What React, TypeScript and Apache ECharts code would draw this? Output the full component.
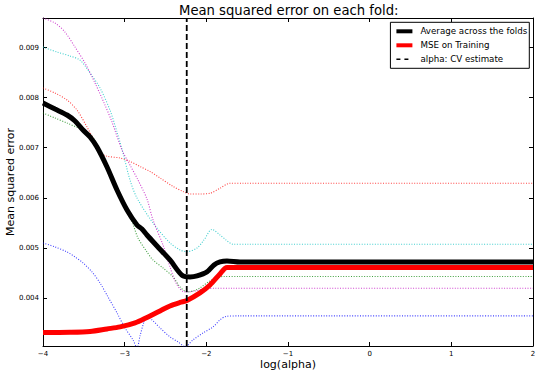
import React, { useEffect, useRef } from "react";
import * as echarts from "echarts";

const xTicks = [-4, -3, -2, -1, 0, 1, 2];
const yTicks = [0.004, 0.005, 0.006, 0.007, 0.008, 0.009];
const yMin = 0.00304;
const yMax = 0.00959;
const cvAlpha = -2.24;

const avgFolds = [
  [-4.0, 0.007892], [-3.853, 0.007772], [-3.706, 0.007653], [-3.608, 0.007533],
  [-3.51, 0.007353], [-3.424, 0.007214], [-3.339, 0.007014], [-3.216, 0.006615],
  [-3.094, 0.006156], [-2.971, 0.005756], [-2.849, 0.005457], [-2.788, 0.005377],
  [-2.727, 0.005257], [-2.604, 0.005038], [-2.445, 0.004758], [-2.286, 0.004439],
  [-2.2, 0.004419], [-2.114, 0.004439], [-1.992, 0.004519], [-1.906, 0.004659],
  [-1.833, 0.004719], [-1.747, 0.004739], [-1.588, 0.004719], [2.0, 0.004719],
];

const mseTraining = [
  [-4.0, 0.003311], [-3.669, 0.003315], [-3.424, 0.003331], [-3.216, 0.003381],
  [-3.057, 0.003421], [-2.873, 0.003501], [-2.727, 0.003611], [-2.567, 0.003741],
  [-2.445, 0.00384], [-2.322, 0.00391], [-2.237, 0.00395], [-2.078, 0.0041],
  [-1.955, 0.004259], [-1.833, 0.004479], [-1.747, 0.004609], [-1.6, 0.004609],
  [2.0, 0.004609],
];

const foldBlue = [
  [-4.0, 0.005098], [-3.853, 0.005018], [-3.706, 0.004918], [-3.608, 0.004818],
  [-3.51, 0.004699], [-3.4, 0.004519], [-3.302, 0.004299], [-3.204, 0.00402],
  [-3.094, 0.003701], [-2.996, 0.003401], [-2.898, 0.003162], [-2.849, 0.003],
  [-2.812, 0.003241], [-2.763, 0.003521], [-2.727, 0.003621], [-2.665, 0.003561],
  [-2.567, 0.003401], [-2.445, 0.003222], [-2.347, 0.003122], [-2.261, 0.00303],
  [-2.163, 0.003162], [-2.041, 0.003301], [-1.918, 0.003421], [-1.833, 0.003561],
  [-1.759, 0.003631], [-1.6, 0.003641], [2.0, 0.003641],
];

const foldGreen = [
  [-4.0, 0.007693], [-3.853, 0.007593], [-3.706, 0.007493], [-3.51, 0.007353],
  [-3.424, 0.007273], [-3.339, 0.007074], [-3.216, 0.006675], [-3.094, 0.006216],
  [-2.971, 0.005796], [-2.898, 0.005477], [-2.837, 0.005198], [-2.727, 0.004918],
  [-2.653, 0.004758], [-2.531, 0.004599], [-2.408, 0.004419], [-2.322, 0.00422],
  [-2.237, 0.00412], [-2.163, 0.00414], [-2.078, 0.0042], [-1.955, 0.004339],
  [-1.796, 0.004429], [-1.6, 0.004429], [2.0, 0.004429],
];

const foldRed = [
  [-4.0, 0.008192], [-3.853, 0.008092], [-3.706, 0.007952], [-3.584, 0.007752],
  [-3.461, 0.007413], [-3.363, 0.007114], [-3.302, 0.006914], [-3.229, 0.006834],
  [-3.057, 0.006794], [-2.935, 0.006725], [-2.812, 0.006625], [-2.69, 0.006525],
  [-2.567, 0.006395], [-2.408, 0.006226], [-2.286, 0.006126], [-2.2, 0.006076],
  [-2.078, 0.006076], [-1.955, 0.00609], [-1.833, 0.00619], [-1.71, 0.006289],
  [-1.55, 0.006289], [2.0, 0.006289],
];

const foldCyan = [
  [-4.0, 0.00901], [-3.829, 0.00891], [-3.669, 0.00883], [-3.547, 0.00875],
  [-3.424, 0.008491], [-3.302, 0.008192], [-3.18, 0.007752], [-3.094, 0.007313],
  [-3.02, 0.006894], [-2.935, 0.006355], [-2.849, 0.005996], [-2.653, 0.005497],
  [-2.445, 0.005098], [-2.322, 0.004958], [-2.237, 0.004924], [-2.114, 0.004998],
  [-2.029, 0.005158], [-1.931, 0.005367], [-1.833, 0.005257], [-1.759, 0.005158],
  [-1.674, 0.005072], [-1.5, 0.005072], [2.0, 0.005072],
];

const foldMagenta = [
  [-4.0, 0.009589], [-3.853, 0.009489], [-3.731, 0.009309], [-3.608, 0.00901],
  [-3.486, 0.008691], [-3.363, 0.008291], [-3.241, 0.007852], [-3.155, 0.007513],
  [-3.033, 0.006954], [-2.935, 0.006655], [-2.837, 0.006355], [-2.727, 0.005976],
  [-2.653, 0.005557], [-2.531, 0.005058], [-2.445, 0.004619], [-2.371, 0.004299],
  [-2.286, 0.00413], [-2.225, 0.00412], [-2.139, 0.00414], [-2.016, 0.00418],
  [-1.894, 0.004194], [-1.7, 0.004194], [2.0, 0.004194],
];

const foldData = [foldBlue, foldGreen, foldRed, foldCyan, foldMagenta];
const foldNames = ["fold 1", "fold 2", "fold 3", "fold 4", "fold 5"];
const foldColors = ["#0000ff", "#008000", "#ff0000", "#00bfbf", "#bf00bf"];

const FONT = "DejaVu Sans";

export default function App() {
  const ref = useRef<HTMLDivElement>(null);
  useEffect(() => {
    if (!ref.current) return;
    const chart = echarts.init(ref.current, undefined, { renderer: "svg" });
    const fmtX = (v: number) => (v < 0 ? "\u2212" + Math.abs(v) : String(v));
    const frameAxis = {
      axisLine: { show: true, onZero: false, lineStyle: { color: "#000", width: 1 } },
      splitLine: { show: false },
    };
    const foldSeries = foldData.map((d, i) => ({
      type: "line",
      name: foldNames[i],
      data: d,
      symbol: "none",
      showSymbol: false,
      smooth: 0.3,
      silent: true,
      z: 1,
      lineStyle: { color: foldColors[i], width: 1.1, type: [1, 1.6], opacity: 0.75 },
    }));
    chart.setOption({
      animation: false,
      backgroundColor: "#fff",
      textStyle: { fontFamily: FONT },
      title: {
        text: "Mean squared error on each fold:",
        left: 179,
        top: 4,
        padding: 0,
        textStyle: { fontFamily: FONT, fontSize: 13.2, fontWeight: "normal", color: "#000" },
      },
      legend: {
        orient: "vertical",
        right: 10.7,
        top: 22.3,
        padding: [4, 2, 4, 4],
        itemGap: 4,
        itemWidth: 16,
        itemHeight: 10,
        backgroundColor: "#fff",
        borderColor: "#000",
        borderWidth: 1,
        borderRadius: 0,
        itemStyle: { opacity: 0, borderWidth: 0 },
        textStyle: { fontFamily: FONT, fontSize: 8.7, color: "#000", lineHeight: 10, padding: [0, 0, 0, 3] },
        data: [
          { name: "Average across the folds", lineStyle: { width: 4 } },
          { name: "MSE on Training", lineStyle: { width: 4 } },
          { name: "alpha: CV estimate", lineStyle: { width: 1.5, type: [4, 4] } },
        ],
      },
      grid: { left: 43, right: 7, top: 18, bottom: 30, containLabel: false, outerBoundsMode: "none" },
      xAxis: [
        {
          type: "value",
          min: -4,
          max: 2,
          interval: 1,
          position: "bottom",
          ...frameAxis,
          axisTick: { show: true, inside: true, length: 4, lineStyle: { color: "#000" } },
          axisLabel: { show: true, margin: 4, fontFamily: FONT, fontSize: 7, color: "#000", formatter: fmtX },
          name: "log(alpha)",
          nameLocation: "middle",
          nameGap: 13,
          nameMoveOverlap: false,
          nameTextStyle: { fontFamily: FONT, fontSize: 11, color: "#000" },
        },
        {
          type: "value",
          min: -4,
          max: 2,
          interval: 1,
          position: "top",
          ...frameAxis,
          axisTick: { show: true, inside: true, length: 4, lineStyle: { color: "#000" } },
          axisLabel: { show: false },
        },
      ],
      yAxis: [
        {
          type: "value",
          min: yMin,
          max: yMax,
          position: "left",
          ...frameAxis,
          axisTick: { show: true, inside: true, length: 4, customValues: yTicks, lineStyle: { color: "#000" } },
          axisLabel: {
            show: true,
            margin: 4,
            fontFamily: FONT,
            fontSize: 7,
            color: "#000",
            customValues: yTicks,
            formatter: (v: number) => v.toFixed(3),
          },
          name: "Mean squared error",
          nameLocation: "middle",
          nameGap: 27,
          nameMoveOverlap: false,
          nameTextStyle: { fontFamily: FONT, fontSize: 11, color: "#000" },
        },
        {
          type: "value",
          min: yMin,
          max: yMax,
          position: "right",
          ...frameAxis,
          axisTick: { show: true, inside: true, length: 4, customValues: yTicks, lineStyle: { color: "#000" } },
          axisLabel: { show: false },
        },
      ],
      series: [
        ...foldSeries,
        {
          type: "line",
          name: "Average across the folds",
          data: avgFolds,
          symbol: "none",
          smooth: 0.3,
          z: 3,
          lineStyle: { color: "#000", width: 5 },
          itemStyle: { color: "#000" },
        },
        {
          type: "line",
          name: "MSE on Training",
          data: mseTraining,
          symbol: "none",
          smooth: 0.3,
          z: 4,
          lineStyle: { color: "#ff0000", width: 5 },
          itemStyle: { color: "#ff0000" },
        },
        {
          type: "line",
          name: "alpha: CV estimate",
          data: [[cvAlpha, yMin], [cvAlpha, yMax]],
          symbol: "none",
          z: 5,
          lineStyle: { color: "#000", width: 1.8, type: [6, 3] },
          itemStyle: { color: "#000" },
        },
      ],
    });
    return () => chart.dispose();
  }, []);
  return (
    <div
      ref={ref}
      style={{ position: "fixed", left: 0, top: 0, width: 540, height: 376, background: "#fff" }}
    />
  );
}
